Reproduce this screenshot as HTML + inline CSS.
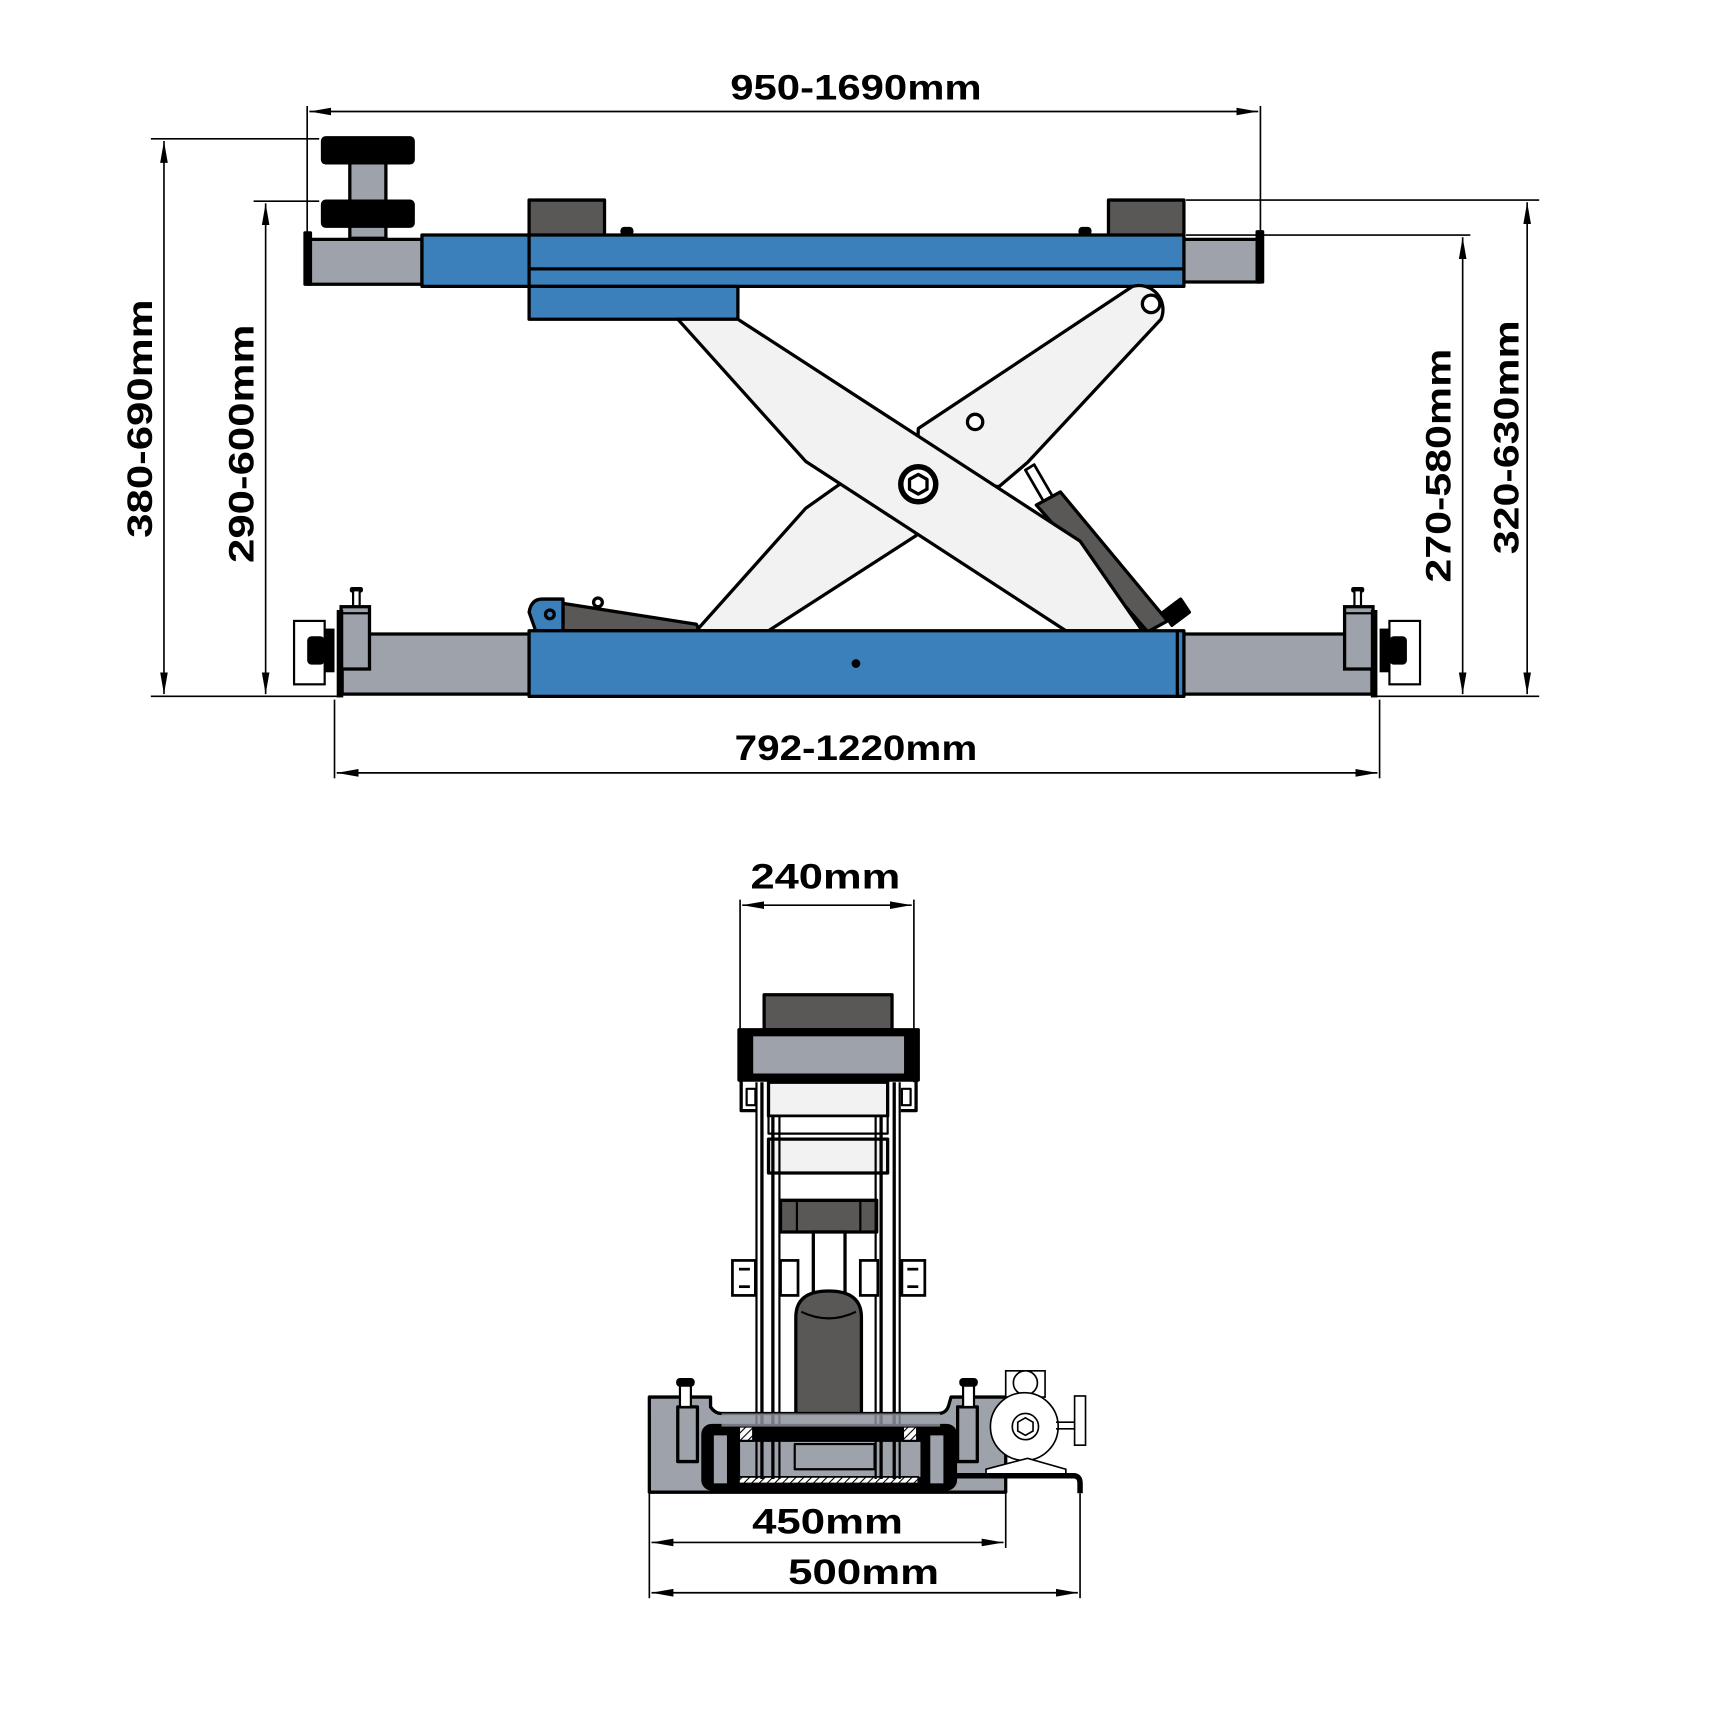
<!DOCTYPE html>
<html><head><meta charset="utf-8"><style>html,body{margin:0;padding:0;background:#fff}svg{display:block}</style></head>
<body>
<svg width="1713" height="1713" viewBox="0 0 1567 1567" xmlns="http://www.w3.org/2000/svg">
<defs>
<marker id="ar" viewBox="0 0 20 10" refX="20" refY="5" markerWidth="20" markerHeight="10" markerUnits="userSpaceOnUse" orient="auto-start-reverse"><path d="M0,1.5 L20,5 L0,8.5 Z" fill="#000"/></marker>
<pattern id="hat" width="5" height="5" patternUnits="userSpaceOnUse" patternTransform="rotate(45)"><rect width="5" height="5" fill="#fff"/><line x1="0" y1="0" x2="0" y2="5" stroke="#000" stroke-width="2"/></pattern>
<g id="clamp">
  <rect x="269" y="568" width="28" height="58" fill="#fff" stroke="#000" stroke-width="2"/>
  <rect x="281" y="582" width="16" height="26" rx="4" fill="#000"/>
  <rect x="297" y="575" width="9" height="40" fill="#000"/>
  <rect x="320" y="537" width="12" height="5" rx="2" fill="#000"/>
  <rect x="323" y="540" width="6" height="16" fill="#fff" stroke="#000" stroke-width="2"/>
  <rect x="312" y="555" width="26" height="57" fill="#9ea2aa" stroke="#000" stroke-width="3"/>
  <line x1="312" y1="561" x2="338" y2="561" stroke="#000" stroke-width="2"/>
  <rect x="308" y="558" width="6" height="80" fill="#000"/>
</g>
</defs>
<g font-family="'Liberation Sans',sans-serif" font-weight="bold" font-size="32" fill="#000">
<text x="783" y="91" text-anchor="middle" textLength="230" lengthAdjust="spacingAndGlyphs">950-1690mm</text>
<text x="783" y="695" text-anchor="middle" textLength="222" lengthAdjust="spacingAndGlyphs">792-1220mm</text>
<text x="755" y="813" text-anchor="middle" textLength="137" lengthAdjust="spacingAndGlyphs">240mm</text>
<text x="757" y="1403" text-anchor="middle" textLength="138" lengthAdjust="spacingAndGlyphs">450mm</text>
<text x="790" y="1449" text-anchor="middle" textLength="138" lengthAdjust="spacingAndGlyphs">500mm</text>
<text transform="translate(139,383) rotate(-90)" text-anchor="middle" textLength="218" lengthAdjust="spacingAndGlyphs">380-690mm</text>
<text transform="translate(232,406) rotate(-90)" text-anchor="middle" textLength="218" lengthAdjust="spacingAndGlyphs">290-600mm</text>
<text transform="translate(1327,426) rotate(-90)" text-anchor="middle" textLength="214" lengthAdjust="spacingAndGlyphs">270-580mm</text>
<text transform="translate(1389,400) rotate(-90)" text-anchor="middle" textLength="214" lengthAdjust="spacingAndGlyphs">320-630mm</text>
</g>
<g stroke="#000" stroke-width="1.5" fill="none">
<line x1="283" y1="102" x2="1151" y2="102" marker-start="url(#ar)" marker-end="url(#ar)"/>
<line x1="281" y1="97" x2="281" y2="215"/><line x1="1153" y1="97" x2="1153" y2="215"/>
<line x1="150" y1="129" x2="150" y2="635" marker-start="url(#ar)" marker-end="url(#ar)"/>
<line x1="138" y1="127" x2="292" y2="127"/><line x1="138" y1="637" x2="312" y2="637"/>
<line x1="243" y1="186" x2="243" y2="635" marker-start="url(#ar)" marker-end="url(#ar)"/>
<line x1="232" y1="184" x2="292" y2="184"/>
<line x1="1338" y1="217" x2="1338" y2="635" marker-start="url(#ar)" marker-end="url(#ar)"/>
<line x1="1085" y1="215" x2="1345" y2="215"/>
<line x1="1397" y1="185" x2="1397" y2="635" marker-start="url(#ar)" marker-end="url(#ar)"/>
<line x1="1085" y1="183" x2="1408" y2="183"/><line x1="1258" y1="637" x2="1408" y2="637"/>
<line x1="308" y1="707" x2="1260" y2="707" marker-start="url(#ar)" marker-end="url(#ar)"/>
<line x1="306" y1="640" x2="306" y2="712"/><line x1="1262" y1="640" x2="1262" y2="712"/>
<line x1="679" y1="828" x2="834" y2="828" marker-start="url(#ar)" marker-end="url(#ar)"/>
<line x1="677" y1="823" x2="677" y2="990"/><line x1="836" y1="823" x2="836" y2="990"/>
<line x1="596" y1="1411" x2="918" y2="1411" marker-start="url(#ar)" marker-end="url(#ar)"/>
<line x1="596" y1="1457" x2="986" y2="1457" marker-start="url(#ar)" marker-end="url(#ar)"/>
<line x1="594" y1="1366" x2="594" y2="1462"/><line x1="920" y1="1366" x2="920" y2="1416"/><line x1="988" y1="1366" x2="988" y2="1462"/>
</g>

<!-- TOP VIEW -->
<g stroke="#000" stroke-width="3" stroke-linejoin="round">
<rect x="320" y="149" width="33" height="69" fill="#9ea2aa"/>
<rect x="295" y="126" width="83" height="23" rx="3" fill="#000"/>
<rect x="295" y="184" width="83" height="23" rx="3" fill="#000"/>
<rect x="484" y="183" width="69" height="33" fill="#5a5856"/>
<rect x="1014" y="183" width="69" height="33" fill="#5a5856"/>
<rect x="569" y="209" width="9" height="5" rx="2" fill="#000"/>
<rect x="988" y="209" width="9" height="5" rx="2" fill="#000"/>
<rect x="282" y="219" width="104" height="41" fill="#9ea2aa"/>
<rect x="1083" y="219" width="70" height="39" fill="#9ea2aa"/>
<rect x="279" y="213" width="5" height="47" fill="#000"/>
<rect x="1150" y="212" width="5" height="46" fill="#000"/>
<rect x="386" y="215" width="697" height="47" fill="#3b80bb"/>
<line x1="484" y1="215" x2="484" y2="262"/>
<line x1="484" y1="246" x2="1083" y2="246"/>
<rect x="484" y="262" width="191" height="30" fill="#3b80bb"/>
<polygon points="515,552 637,571 640,577 515,577" fill="#5a5856"/>
<circle cx="547" cy="551" r="4" fill="#fff"/>
<path d="M490,577 L484,560 Q486,548 496,548 L515,548 L515,577 Z" fill="#3b80bb"/>
<circle cx="503" cy="562" r="4" fill="none"/>
<polygon points="938,430 946,425 964,456 956,461" fill="#fff" stroke-width="2.5"/>
<polygon points="948,462 970,450 1068,568 1050,578" fill="#5a5856"/>
<polygon points="1064,560 1080,548 1088,560 1072,572" fill="#000"/>
<path d="M637,577 L737,465 L768,443 L914,445 L940,423 L1062,292 A22,22 0 0 0 1036,262 L840,392 L838,490 L703,577 Z" fill="#f2f2f2"/>
<polygon points="620,292 675,292 988,495 1045,577 975,577 737,422" fill="#f2f2f2"/>
<circle cx="1053" cy="278" r="8" fill="#fff"/>
<circle cx="892" cy="386" r="7" fill="#fff"/>
<circle cx="840" cy="443" r="16" fill="#fff" stroke-width="5"/>
<polygon points="840,434 848,438.5 848,447.5 840,452 832,447.5 832,438.5" fill="#fff" stroke-width="3"/>
<rect x="313" y="580" width="171" height="55" fill="#9ea2aa"/>
<rect x="1083" y="580" width="172" height="55" fill="#9ea2aa"/>
<rect x="484" y="577" width="599" height="60" fill="#3b80bb"/>
<line x1="1077" y1="577" x2="1077" y2="637"/>
</g>
<circle cx="783" cy="607" r="4" fill="#000"/>
<use href="#clamp"/>
<use href="#clamp" transform="translate(1568,0) scale(-1,1)"/>

<!-- BOTTOM VIEW -->
<g stroke="#000" stroke-width="3" stroke-linejoin="round">
<rect x="699" y="910" width="117" height="32" fill="#5a5856"/>
<rect x="676" y="942" width="164" height="46" fill="#000"/>
<rect x="689" y="948" width="138" height="34" fill="#9ea2aa" stroke="none"/>
<path d="M678,988 L678,1016 L692,1016 M838,988 L838,1016 L824,1016" fill="none"/>
<rect x="683" y="996" width="8" height="15" fill="#fff" stroke-width="2"/>
<rect x="825" y="996" width="8" height="15" fill="#fff" stroke-width="2"/>
<rect x="703" y="990" width="109" height="31" fill="#f2f2f2"/>
<rect x="703" y="1021" width="109" height="16" fill="#fff" stroke-width="2"/>
<rect x="703" y="1042" width="109" height="31" fill="#f2f2f2"/>
<rect x="714" y="1098" width="88" height="29" fill="#5a5856"/>
<line x1="729" y1="1098" x2="729" y2="1127" stroke-width="2"/><line x1="787" y1="1098" x2="787" y2="1127" stroke-width="2"/>
<rect x="744" y="1127" width="29" height="63" fill="#fff"/>
<path d="M728,1205 Q728,1181 758,1181 Q788,1181 788,1205 L788,1305 Q788,1318 758,1318 Q728,1318 728,1305 Z" fill="#5a5856"/>
<path d="M733,1200 Q758,1212 783,1200" fill="none" stroke-width="2"/>
<!-- base -->
<path d="M594,1278 L650,1278 L650,1287 Q654,1293 660,1293 L858,1293 Q866,1293 868,1285 L870,1278 L920,1278 L920,1365 L594,1365 Z" fill="#9ea2aa"/>
<rect x="643" y="1304" width="231" height="58" rx="8" fill="#000"/>
<rect x="652" y="1312" width="14" height="46" fill="#9ea2aa" stroke-width="2"/>
<rect x="850" y="1312" width="14" height="46" fill="#9ea2aa" stroke-width="2"/>
<rect x="676" y="1318" width="167" height="34" fill="#9ea2aa" stroke-width="2"/>
<rect x="727" y="1321" width="73" height="23" fill="#9ea2aa" stroke-width="2"/>
<rect x="676" y="1351" width="164" height="6" fill="url(#hat)" stroke-width="1.5"/>
<rect x="676" y="1305" width="13" height="13" fill="url(#hat)" stroke-width="2"/>
<rect x="826" y="1305" width="13" height="13" fill="url(#hat)" stroke-width="2"/>
<rect x="620" y="1287" width="18" height="50" fill="#9ea2aa"/>
<rect x="876" y="1287" width="18" height="50" fill="#9ea2aa"/>
<rect x="622" y="1266" width="10" height="21" fill="#fff" stroke-width="2"/>
<rect x="620" y="1262" width="14" height="5" rx="2" fill="#000"/>
<rect x="881" y="1266" width="10" height="21" fill="#fff" stroke-width="2"/>
<rect x="879" y="1262" width="14" height="5" rx="2" fill="#000"/>
</g>
<g stroke="#000" stroke-width="3" fill="none">
<line x1="697" y1="990" x2="697" y2="1353"/><line x1="707" y1="1021" x2="707" y2="1353"/>
<line x1="818" y1="990" x2="818" y2="1353"/><line x1="806" y1="1021" x2="806" y2="1353"/>
<line x1="692" y1="990" x2="692" y2="1353" stroke-width="2"/><line x1="713" y1="1021" x2="713" y2="1353" stroke-width="2"/>
<line x1="823" y1="990" x2="823" y2="1353" stroke-width="2"/><line x1="801" y1="1021" x2="801" y2="1353" stroke-width="2"/>
</g>
<rect x="660" y="1293" width="200" height="12" fill="#9ea2aa" opacity="0.75"/>
<g stroke="#000" stroke-width="2.5" fill="#fff">
<rect x="670" y="1153" width="21" height="32"/><rect x="714" y="1153" width="16" height="32"/>
<rect x="787" y="1153" width="16" height="32"/><rect x="825" y="1153" width="21" height="32"/>
<line x1="676" y1="1161" x2="686" y2="1161"/><line x1="676" y1="1177" x2="686" y2="1177"/>
<line x1="830" y1="1161" x2="840" y2="1161"/><line x1="830" y1="1177" x2="840" y2="1177"/>
</g>
<g stroke="#000" stroke-width="1.5" fill="#fff">
<rect x="920" y="1254" width="36" height="24"/>
<circle cx="938" cy="1265" r="11"/>
<circle cx="937" cy="1305" r="31"/>
<circle cx="938" cy="1305" r="12"/>
<polygon points="938,1297 945,1301 945,1309 938,1313 931,1309 931,1301"/>
<line x1="966" y1="1301" x2="983" y2="1301"/><line x1="966" y1="1307" x2="983" y2="1307"/>
<rect x="983" y="1277" width="10" height="45"/>
<path d="M902,1344 L940,1334 L975,1344 L975,1350 L902,1350 Z"/>
</g>
<path d="M874,1350 L982,1350 Q988,1350 988,1357 L988,1366" stroke="#000" stroke-width="5" fill="none"/>
</svg>
</body></html>
